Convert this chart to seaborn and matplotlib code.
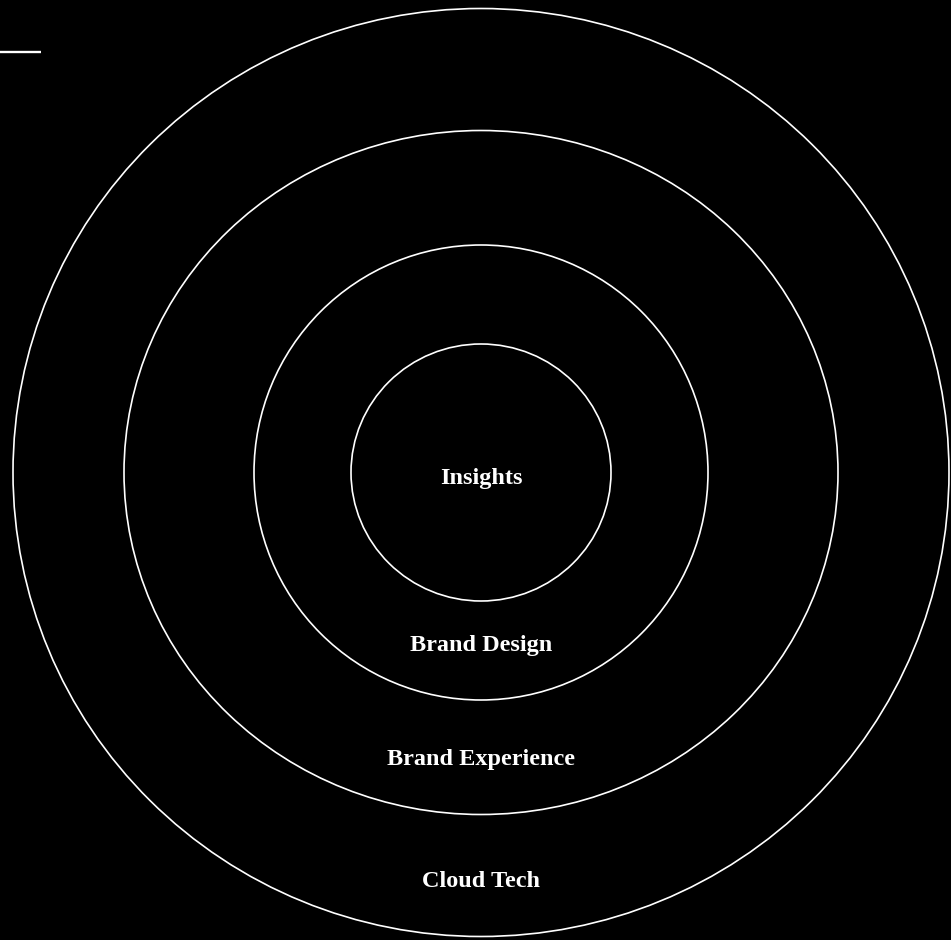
import numpy as np
import matplotlib.pyplot as plt
import seaborn as sns
from matplotlib.patches import Ellipse

# rings from the inside out
ring_labels = ["Insights", "Brand Design", "Brand Experience", "Cloud Tech"]
ring_half_width = [130, 227, 357, 468]
ring_half_height = [128.5, 227.5, 342, 464]

sns.set_theme(style="dark", rc={"axes.facecolor": "black", "figure.facecolor": "black"})
plt.rcParams['font.family'] = ['Liberation Serif', 'DejaVu Serif']

fig = plt.figure(figsize=(9.51, 9.40), dpi=100)
ax = fig.add_axes([0, 0, 1, 1])
ax.set_xlim(0, 951)
ax.set_ylim(940, 0)
ax.set_axis_off()

cx, cy = 481, 472.5
for w, h in zip(ring_half_width, ring_half_height):
    ax.add_patch(Ellipse((cx, cy), 2 * w, 2 * h, fill=False, edgecolor="white", lw=1.2))

# label each ring: the centre one in the middle, the rest just above their ring's bottom edge
for i, label in enumerate(ring_labels):
    y = cy + 6 if i == 0 else cy + ring_half_height[i] - 55
    ax.text(cx, y, label, color="white", fontsize=17.5, fontweight="bold",
            ha="center", va="center")

# short rule at the top left
ax.plot([0, 41], [52, 52], color="white", lw=1.7, solid_capstyle="butt")

fig.savefig("out.png", dpi=100, facecolor="black")
